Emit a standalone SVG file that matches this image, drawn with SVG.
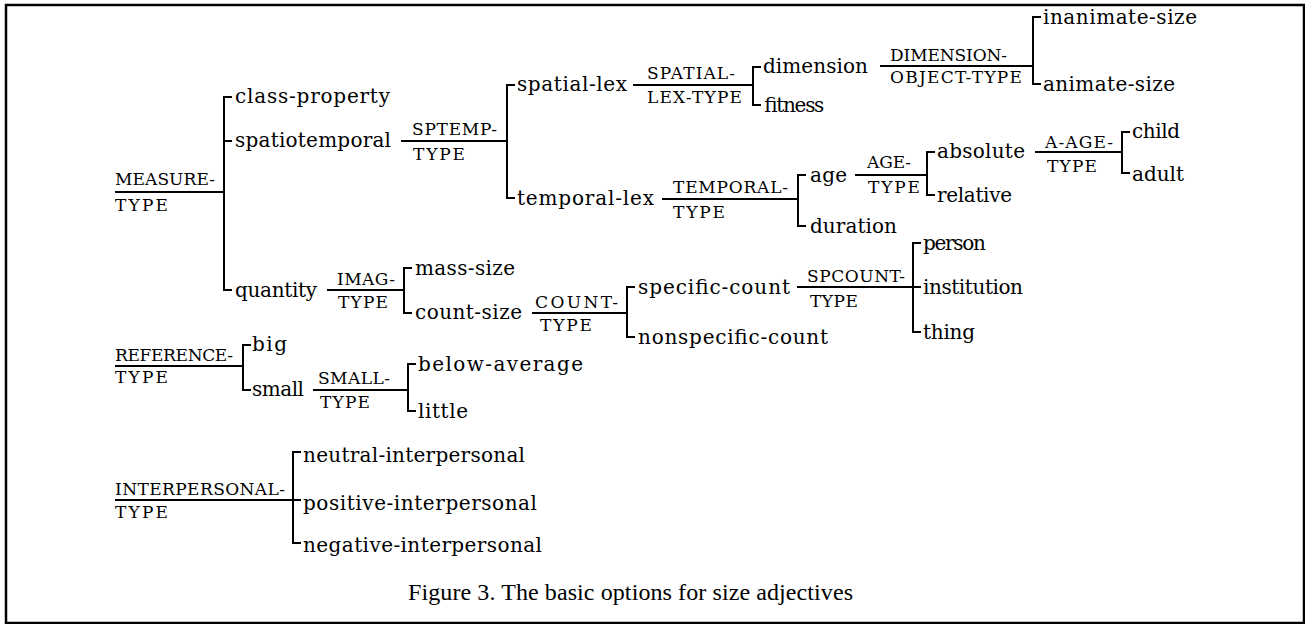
<svg xmlns="http://www.w3.org/2000/svg" width="1305" height="624" viewBox="0 0 1305 624">
<style>
.t{font-family:"DejaVu Serif","Liberation Serif",serif;font-size:20px;fill:#000}
.c{font-family:"DejaVu Serif","Liberation Serif",serif;font-size:17px;fill:#000}
.cap{font-family:"Liberation Serif","Times New Roman",serif;font-size:24px;fill:#000}
.ln{stroke:#000;stroke-width:2;fill:none}
</style>
<rect x="6" y="5" width="1298" height="618" fill="#fff" stroke="#000" stroke-width="2.5"/>
<g id="connectors" class="ln">
<path d="M115 192H224M232 97H224V290H232M224 141H232"/>
<path d="M401 141H507M515 85H507V198H515"/>
<path d="M633 85H753M761 67H753V105H761"/>
<path d="M880 66H1033M1041 17H1033V84H1041"/>
<path d="M662 199H798M806 175H798V226H806"/>
<path d="M855 175H927M935 152H927V195H935"/>
<path d="M1035 152H1122M1130 132H1122V173H1130"/>
<path d="M327 290H404M412 268H404V313H412"/>
<path d="M532 313H627M635 287H627V337H635"/>
<path d="M797 287H913M921 243H913V332H921M913 287H921"/>
<path d="M115 366H243M251 345H243V390H251"/>
<path d="M313 390H408M416 364H408V411H416"/>
<path d="M115 500H293M301 452H293V543H301M293 500H301"/>
</g>
<g id="measure-type"><text class="c" x="115" y="185" textLength="100">MEASURE-</text><text class="c" x="115" y="211" textLength="53">TYPE</text></g>
<g id="class-property"><text class="t" x="235" y="103" textLength="155">class-property</text></g>
<g id="spatiotemporal"><text class="t" x="235" y="147" textLength="156">spatiotemporal</text></g>
<g id="sptemp-type"><text class="c" x="412" y="135" textLength="85">SPTEMP-</text><text class="c" x="413" y="160" textLength="52">TYPE</text></g>
<g id="spatial-lex"><text class="t" x="517" y="91" textLength="110">spatial-lex</text></g>
<g id="spatial-lex-type"><text class="c" x="647" y="79" textLength="88">SPATIAL-</text><text class="c" x="647" y="103" textLength="95">LEX-TYPE</text></g>
<g id="dimension"><text class="t" x="763" y="73" textLength="105">dimension</text></g>
<g id="dimension-object-type"><text class="c" x="890" y="61" textLength="117">DIMENSION-</text><text class="c" x="890" y="83" textLength="132">OBJECT-TYPE</text></g>
<g id="inanimate-size"><text class="t" x="1043" y="24" textLength="154">inanimate-size</text></g>
<g id="animate-size"><text class="t" x="1043" y="91" textLength="132">animate-size</text></g>
<g id="fitness"><text class="t" x="763" y="112" textLength="60">fitness</text></g>
<g id="temporal-lex"><text class="t" x="517" y="205" textLength="137">temporal-lex</text></g>
<g id="temporal-type"><text class="c" x="673" y="193" textLength="115">TEMPORAL-</text><text class="c" x="673" y="218" textLength="52">TYPE</text></g>
<g id="age"><text class="t" x="810" y="182" textLength="37">age</text></g>
<g id="age-type"><text class="c" x="867" y="168" textLength="44">AGE-</text><text class="c" x="868" y="193" textLength="52">TYPE</text></g>
<g id="duration"><text class="t" x="810" y="233" textLength="87">duration</text></g>
<g id="absolute"><text class="t" x="937" y="158" textLength="88">absolute</text></g>
<g id="a-age-type"><text class="c" x="1045" y="148" textLength="68">A-AGE-</text><text class="c" x="1047" y="172" textLength="50">TYPE</text></g>
<g id="relative"><text class="t" x="937" y="202" textLength="75">relative</text></g>
<g id="child"><text class="t" x="1132" y="138" textLength="48">child</text></g>
<g id="adult"><text class="t" x="1132" y="181" textLength="52">adult</text></g>
<g id="quantity"><text class="t" x="235" y="297" textLength="82">quantity</text></g>
<g id="imag-type"><text class="c" x="337" y="285" textLength="58">IMAG-</text><text class="c" x="338" y="308" textLength="50">TYPE</text></g>
<g id="mass-size"><text class="t" x="415" y="275" textLength="100">mass-size</text></g>
<g id="count-size"><text class="t" x="415" y="319" textLength="107">count-size</text></g>
<g id="count-type"><text class="c" x="535" y="308" textLength="83">COUNT-</text><text class="c" x="540" y="331" textLength="52">TYPE</text></g>
<g id="specific-count"><text class="t" x="638" y="294" textLength="152">specific-count</text></g>
<g id="spcount-type"><text class="c" x="807" y="282" textLength="98">SPCOUNT-</text><text class="c" x="810" y="307" textLength="48">TYPE</text></g>
<g id="nonspecific-count"><text class="t" x="638" y="344" textLength="190">nonspecific-count</text></g>
<g id="person"><text class="t" x="923" y="250" textLength="63">person</text></g>
<g id="institution"><text class="t" x="923" y="294" textLength="100">institution</text></g>
<g id="thing"><text class="t" x="923" y="339" textLength="52">thing</text></g>
<g id="reference-type"><text class="c" x="115" y="361" textLength="118">REFERENCE-</text><text class="c" x="115" y="383" textLength="53">TYPE</text></g>
<g id="big"><text class="t" x="252" y="351" textLength="35">big</text></g>
<g id="small"><text class="t" x="252" y="396" textLength="52">small</text></g>
<g id="small-type"><text class="c" x="318" y="384" textLength="72">SMALL-</text><text class="c" x="320" y="408" textLength="50">TYPE</text></g>
<g id="below-average"><text class="t" x="418" y="371" textLength="165">below-average</text></g>
<g id="little"><text class="t" x="418" y="418" textLength="50">little</text></g>
<g id="interpersonal-type"><text class="c" x="115" y="495" textLength="170">INTERPERSONAL-</text><text class="c" x="115" y="518" textLength="53">TYPE</text></g>
<g id="neutral-interpersonal"><text class="t" x="303" y="462" textLength="222">neutral-interpersonal</text></g>
<g id="positive-interpersonal"><text class="t" x="303" y="510" textLength="234">positive-interpersonal</text></g>
<g id="negative-interpersonal"><text class="t" x="303" y="552" textLength="239">negative-interpersonal</text></g>
<g id="caption"><text class="cap" x="408" y="600" textLength="445">Figure 3. The basic options for size adjectives</text></g>
</svg>
